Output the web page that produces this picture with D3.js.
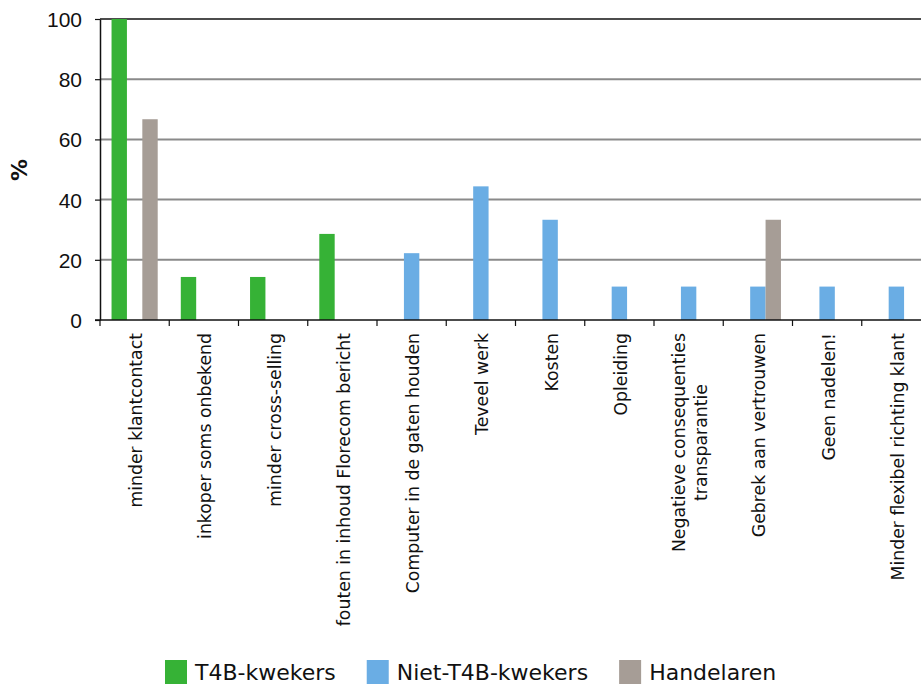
<!DOCTYPE html>
<html>
<head>
<meta charset="utf-8">
<script src="https://cdn.jsdelivr.net/npm/d3@7"></script>
<style>
  body { margin: 0; background: #ffffff; }
  svg { display: block; font-family: "DejaVu Sans", Verdana, sans-serif; }
</style>
</head>
<body>
<svg id="chart" width="921" height="684"></svg>
<script>
// Nadelen per groep (%)
const categories = [
  "minder klantcontact",
  "inkoper soms onbekend",
  "minder cross-selling",
  "fouten in inhoud Florecom bericht",
  "Computer in de gaten houden",
  "Teveel werk",
  "Kosten",
  "Opleiding",
  "Negatieve consequenties\ntransparantie",
  "Gebrek aan vertrouwen",
  "Geen nadelen!",
  "Minder flexibel richting klant"
];
const seriesNames = ["T4B-kwekers", "Niet-T4B-kwekers", "Handelaren"];
const t4bKwekers     = [100, 14.3, 14.3, 28.6, 0, 0, 0, 0, 0, 0, 0, 0];
const nietT4bKwekers = [0, 0, 0, 0, 22.2, 44.4, 33.3, 11.1, 11.1, 11.1, 11.1, 11.1];
const handelaren     = [66.7, 0, 0, 0, 0, 0, 0, 0, 0, 33.3, 0, 0];
const yTicks = [0, 20, 40, 60, 80, 100];
const seriesColors = ["#36b236", "#6aade4", "#a69d96"];

const svg = d3.select("#chart");
const plot = { left: 100, right: 931, top: 19, bottom: 320 };

const x0 = d3.scaleBand().domain(categories).range([plot.left, plot.right]).padding(0);
const x1 = d3.scaleBand().domain(seriesNames).range([0, x0.bandwidth()])
  .paddingInner(0).paddingOuter(0.75);
const y = d3.scaleLinear().domain([0, 100]).range([plot.bottom, plot.top]);
const color = d3.scaleOrdinal().domain(seriesNames).range(seriesColors);

const seriesValues = [t4bKwekers, nietT4bKwekers, handelaren];
const barData = [];
seriesValues.forEach((vals, si) => {
  vals.forEach((v, ci) => {
    if (v > 0) barData.push({ cat: categories[ci], series: seriesNames[si], value: v });
  });
});

// horizontal gridlines
svg.append("g")
  .selectAll("line")
  .data(yTicks.filter(t => t > 0))
  .join("line")
  .attr("x1", plot.left).attr("x2", plot.right)
  .attr("y1", d => y(d)).attr("y2", d => y(d))
  .attr("stroke", d => d === 100 ? "#111" : "#8a8a8a")
  .attr("stroke-width", d => d === 100 ? 1.5 : 2);

// bars
svg.append("g")
  .selectAll("rect")
  .data(barData)
  .join("rect")
  .attr("x", d => x0(d.cat) + x1(d.series))
  .attr("width", x1.bandwidth())
  .attr("y", d => y(d.value))
  .attr("height", d => y(0) - y(d.value))
  .attr("fill", d => color(d.series));

// y axis
const yAxis = svg.append("g")
  .attr("transform", `translate(${plot.left},0)`)
  .call(d3.axisLeft(y).tickValues(yTicks).tickSize(5).tickSizeOuter(0).tickPadding(13));
yAxis.select(".domain").attr("stroke", "#111").attr("stroke-width", 1.5);
yAxis.selectAll(".tick line").attr("stroke", "#111").attr("stroke-width", 1.2);
yAxis.selectAll(".tick text")
  .attr("font-size", 21)
  .attr("fill", "#111")
  .attr("dy", "0.36em");

// x axis line and category boundary ticks
svg.append("line")
  .attr("x1", plot.left - 5).attr("x2", plot.right)
  .attr("y1", y(0)).attr("y2", y(0))
  .attr("stroke", "#111").attr("stroke-width", 1.5);
const boundaries = categories.map(c => x0(c)).concat([x0(categories[categories.length - 1]) + x0.bandwidth()]);
svg.append("g")
  .selectAll("line")
  .data(boundaries)
  .join("line")
  .attr("x1", d => d).attr("x2", d => d)
  .attr("y1", y(0)).attr("y2", y(0) + 6)
  .attr("stroke", "#111").attr("stroke-width", 1.2);

// rotated category labels
const labels = svg.append("g")
  .selectAll("g")
  .data(categories)
  .join("g")
  .attr("transform", d => `translate(${x0(d) + x0.bandwidth() / 2},${plot.bottom + 13}) rotate(-90)`);
labels.each(function (d) {
  const lines = d.split("\n");
  const t = d3.select(this).append("text")
    .attr("font-size", 17.3)
    .attr("fill", "#111")
    .attr("text-anchor", "middle");
  lines.forEach((ln, i) => {
    t.append("tspan")
      .attr("x", 0)
      .attr("y", (i - (lines.length - 1) / 2) * 22 + 7.5)
      .text(ln);
  });
  let maxLen = 0;
  t.selectAll("tspan").each(function () { maxLen = Math.max(maxLen, this.getComputedTextLength()); });
  t.selectAll("tspan").attr("x", -maxLen / 2);
});

// y axis title
svg.append("text")
  .attr("transform", "translate(19,170) rotate(-90)")
  .attr("text-anchor", "middle")
  .attr("dominant-baseline", "central")
  .attr("font-size", 22)
  .attr("font-weight", "bold")
  .attr("fill", "#111")
  .text("%");

// legend
const legend = svg.append("g");
let lx = 165;
seriesNames.forEach(name => {
  legend.append("rect")
    .attr("x", lx).attr("y", 660)
    .attr("width", 22).attr("height", 26)
    .attr("fill", color(name));
  const txt = legend.append("text")
    .attr("x", lx + 30).attr("y", 680)
    .attr("font-size", 22)
    .attr("fill", "#111")
    .text(name);
  lx = lx + 30 + txt.node().getComputedTextLength() + 31;
});
</script>
</body>
</html>
